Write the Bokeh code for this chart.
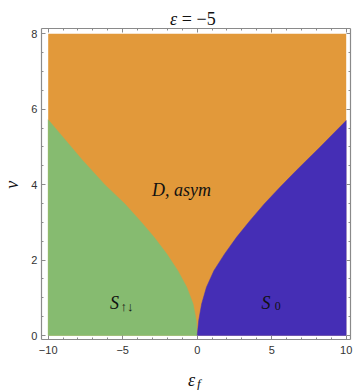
import math
from bokeh.plotting import figure
from bokeh.models import Label, LinearAxis, FixedTicker, Range1d
from bokeh.embed import file_html
from bokeh.resources import INLINE

# ---- data ----
ef_min, ef_max = -10, 10          # epsilon_f span of the phase map
nu_min, nu_max = 0, 8             # nu span of the phase map

# boundary S_updown / D,asym (left branch)
left_nu = [0, 0.40, 0.84, 1.28, 1.72, 2.17, 2.61, 3.05, 3.49, 4.00, 4.65, 5.72]
left_ef = [0, -0.06, -0.28, -0.70, -1.30, -2.05, -2.90, -3.85, -4.85, -6.20, -7.70, -10]

# boundary S_0 / D,asym (right branch)
right_nu = [0, 0.40, 0.84, 1.28, 1.72, 2.17, 2.61, 3.05, 3.49, 3.93, 4.375, 5.00, 5.70]
right_ef = [0, 0.10, 0.30, 0.62, 1.12, 1.85, 2.65, 3.55, 4.50, 5.55, 6.65, 8.25, 10]

x_ticks = [-10, -5, 0, 5, 10]
x_tick_labels = ["−10", "−5", "0", "5", "10"]
x_minor = list(range(-10, 11))
y_ticks = [0, 2, 4, 6, 8]
y_tick_labels = ["0", "2", "4", "6", "8"]
y_minor = [i * 0.5 for i in range(17)]

title_text = "= −5"
phase_names = ["D, asym", "S", "↑↓", "S", "0"]

# ---- colours / styles ----
ORANGE = "#E2993A"
GREEN = "#86BB70"
BLUE = "#452EB5"
FRAME = "#8a8a8a"
SERIF = "Liberation Serif"
SANS = "Liberation Sans"

# frame box (Mathematica-style padded frame) in data units
FX0, FX1 = -10.45, 10.29
FY0, FY1 = -0.106, 8.14

p = figure(width=354, height=390,
           x_range=Range1d(-13.201, 10.557), y_range=Range1d(-1.458, 8.883),
           output_backend="svg", toolbar_location=None,
           x_axis_location=None, y_axis_location=None, min_border=0)
p.grid.visible = False
p.outline_line_color = None
p.background_fill_color = "white"
p.border_fill_color = "white"

# regions
p.quad(left=ef_min, right=ef_max, bottom=nu_min, top=nu_max,
       fill_color=ORANGE, line_color=None)
p.patch([ef_min] + left_ef, [nu_min] + left_nu,
        fill_color=GREEN, line_color=GREEN, line_width=0.5)
p.patch(right_ef + [ef_max], right_nu + [nu_min],
        fill_color=BLUE, line_color=BLUE, line_width=0.5)


def make_axis(ticks, minor, labels, show, loc, bounds, side):
    ax = LinearAxis(fixed_location=loc, bounds=bounds)
    ax.ticker = FixedTicker(ticks=ticks, minor_ticks=minor)
    ax.axis_line_color = FRAME
    ax.axis_line_width = 1.2
    ax.major_tick_line_color = FRAME
    ax.minor_tick_line_color = FRAME
    ax.major_tick_in = 4
    ax.major_tick_out = 0
    ax.minor_tick_in = 2
    ax.minor_tick_out = 0
    ax.major_label_overrides = {t: l for t, l in zip(ticks, labels)}
    ax.major_label_text_font = SANS
    if show:
        ax.major_label_text_font_size = "11px"
        ax.major_label_text_color = "#333333"
    else:
        ax.major_label_text_font_size = "0px"
        ax.major_label_text_color = None
    p.add_layout(ax, side)
    return ax


bx = make_axis(x_ticks, x_minor, x_tick_labels, True, FY0, (FX0, FX1), "below")
ly = make_axis(y_ticks, y_minor, y_tick_labels, True, FX0, (FY0, FY1), "left")
bx.major_label_standoff = 6
ly.major_label_standoff = 4
make_axis(x_ticks, x_minor, x_tick_labels, False, FY1, (FX0, FX1), "above")
make_axis(y_ticks, y_minor, y_tick_labels, False, FX1, (FY0, FY1), "right")

# ---- texts ----
def lab(x, y, text, size, style="italic", angle=0, align="left", baseline="alphabetic", color="#111111"):
    p.add_layout(Label(x=x, y=y, text=text, text_font=SERIF, text_font_size=size,
                       text_font_style=style, angle=angle, text_align=align,
                       text_baseline=baseline, text_color=color))

# title  "ε = −5"
lab(-1.83, 8.40, "ε", "18px")
lab(-1.03, 8.40, title_text, "18px", style="normal")

# axis labels
lab(-0.62, -1.19, "ε", "18px")
lab(-0.02, -1.28, "f", "13px")
lab(-12.40, 4.0, "ν", "18px", angle=math.pi / 2, align="center", baseline="middle")

# phase names
lab(-3.03, 3.85, phase_names[0], "18px")
lab(-5.86, 0.85, phase_names[1], "18px")
lab(-5.15, 0.76, phase_names[2], "13px", style="normal")
lab(4.32, 0.85, phase_names[3], "18px")
lab(5.20, 0.79, phase_names[4], "12px", style="normal")

open("out.html", "w").write(file_html(p, INLINE))
